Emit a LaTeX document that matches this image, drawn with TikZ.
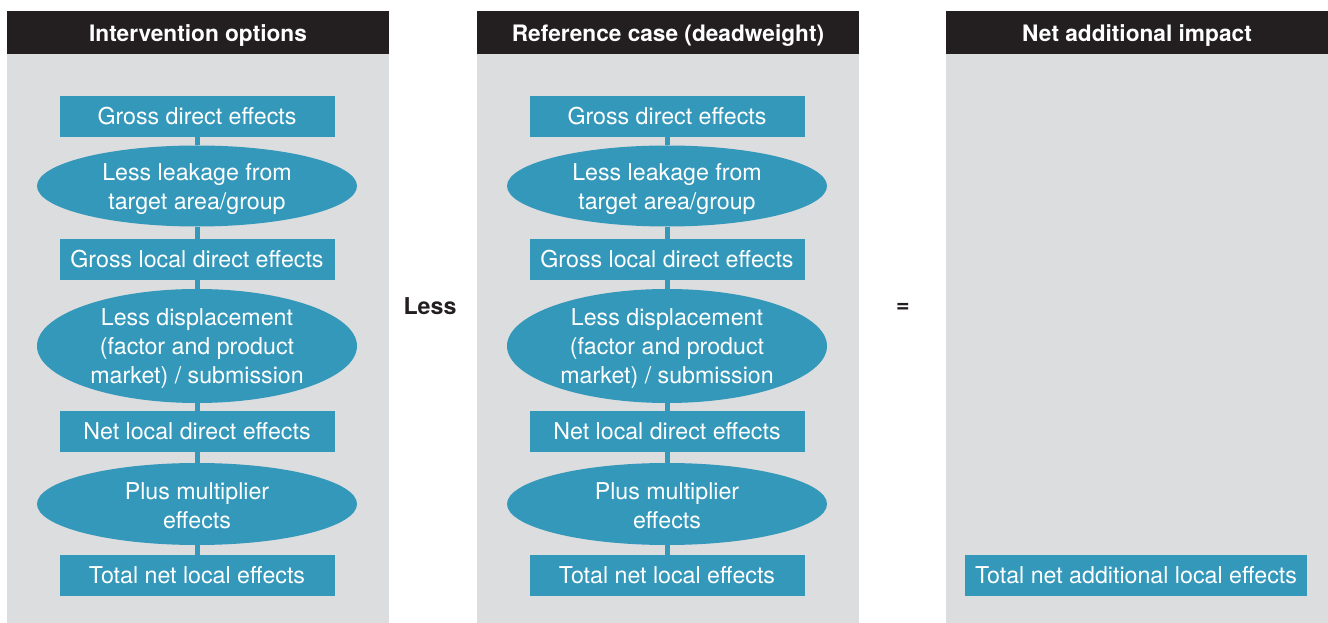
\documentclass[tikz,border=0pt]{standalone}
\usepackage{fontspec}
\setmainfont{TeX Gyre Heros}
\usetikzlibrary{positioning,shapes.geometric}

\definecolor{flowblue}{RGB}{51,152,186}
\definecolor{panelgrey}{RGB}{220,221,223}
\definecolor{headblack}{RGB}{35,31,32}

\tikzset{
	boxfont/.style={font=\fontsize{17.4}{21.75}\selectfont},
	effect/.style={rectangle, fill=flowblue, text=white, inner sep=0pt, minimum width=206.25pt, minimum height=30.75pt, boxfont},
	adjust/.style={ellipse, fill=flowblue, inner sep=0pt, minimum width=240pt},
	adjusttext/.style={text=white, inner sep=0pt, align=center, boxfont},
	link/.style={draw=flowblue, line width=3.75pt},
	header/.style={rectangle, fill=headblack, inner sep=0pt, minimum width=286.5pt, minimum height=32.25pt},
	headtext/.style={text=white, font=\fontsize{17}{20}\selectfont\bfseries},
	panel/.style={rectangle, fill=panelgrey, inner sep=0pt, minimum width=286.5pt, minimum height=426.75pt},
	operator/.style={font=\fontsize{17.4}{20}\selectfont\bfseries, text=headblack},
}

\begin{document}
\begin{tikzpicture}[x=0.75pt, y=-0.75pt]
		\useasboundingbox (0,0) rectangle (1328,623);
		% the two effect chains
		\foreach \col/\cx/\title in {int/197/{Intervention options}, ref/667/{Reference case (deadweight)}}{
			\node[panel] (\col-panel) at (\cx+1,338.5) {};
			\node[header] (\col-head) at (\cx+1,32.5) {};
			\node[headtext] (\col-title) at (\cx+1,35.5) {\title};
			\node[effect] (\col-gross) at (\cx,116.5) {Gross direct effects};
			\node[adjust, minimum height=60.75pt] (\col-leak) at (\cx,186) {};
			\node[adjusttext] (\col-leak-text) at (\cx,189) {Less leakage from\\target area/group};
			\node[effect] (\col-local) at (\cx,259.5) {Gross local direct effects};
			\node[adjust, minimum height=85.5pt] (\col-displ) at (\cx,346) {};
			\node[adjusttext] (\col-displ-text) at (\cx,349) {Less displacement\\(factor and product\\market) / submission};
			\node[effect] (\col-net) at (\cx,431.5) {Net local direct effects};
			\node[adjust, minimum height=61.5pt] (\col-mult) at (\cx,504) {};
			\node[adjusttext] (\col-mult-text) at (\cx,506) {Plus multiplier\\effects};
			\node[effect] (\col-total) at (\cx,575.5) {Total net local effects};
			\draw[link] (\col-gross) -- (\col-leak);
			\draw[link] (\col-leak) -- (\col-local);
			\draw[link] (\col-local) -- (\col-displ);
			\draw[link] (\col-displ) -- (\col-net);
			\draw[link] (\col-net) -- (\col-mult);
			\draw[link] (\col-mult) -- (\col-total);
		}
		% result
		\node[panel] (add-panel) at (1137,338.5) {};
		\node[header] (add-head) at (1137,32.5) {};
		\node[headtext] (add-title) at (1137,35.5) {Net additional impact};
		\node[effect, minimum width=256.5pt] (add-total) at (1136,575.5) {Total net additional local effects};
		\node[operator] (less) at (430,306) {Less};
		\node[operator] (equals) at (903,308) {=};
	\end{tikzpicture}
\end{document}
